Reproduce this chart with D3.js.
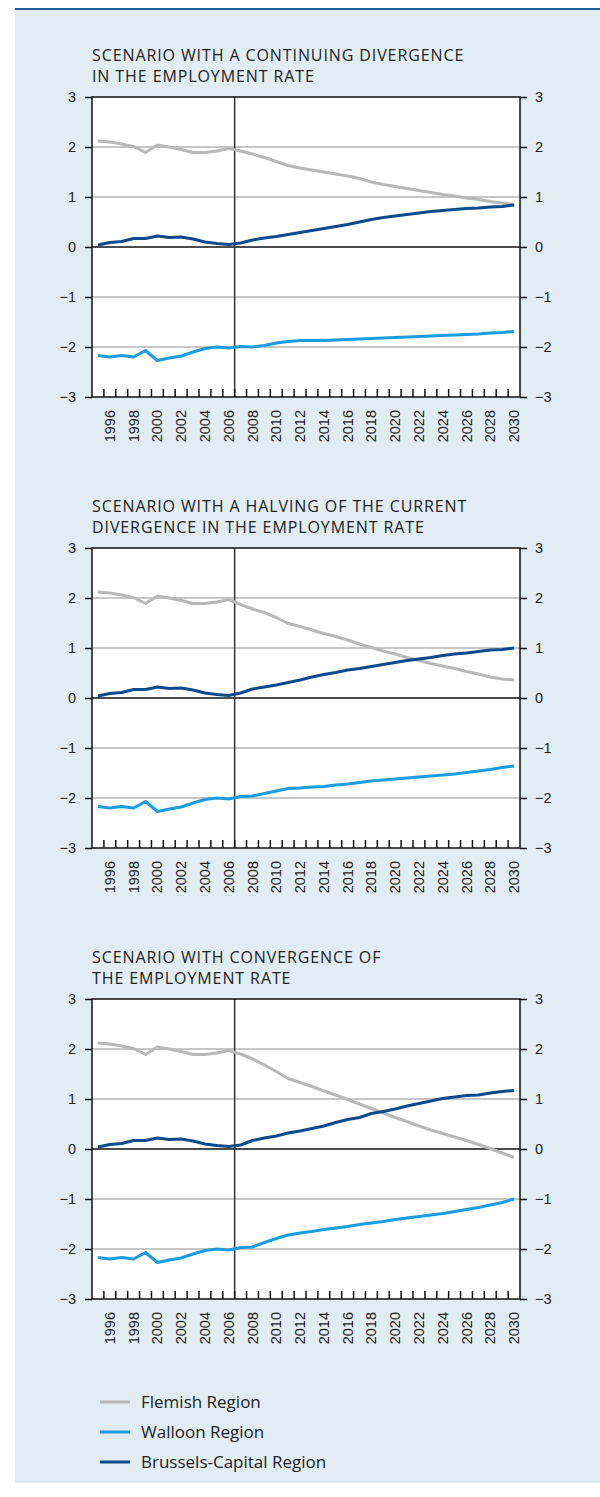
<!DOCTYPE html>
<html>
<head>
<meta charset="utf-8">
<script src="https://d3js.org/d3.v7.min.js"></script>
<style>
  body { margin: 0; background: #fff; }
  svg { display: block; font-family: "Open Sans", "Noto Sans", sans-serif; }
  .tick text { font-size: 14.5px; fill: #222; }
  .title { font-size: 16px; letter-spacing: 0.9px; fill: #222; }
  .legend text { font-size: 17px; fill: #222; }
</style>
</head>
<body>
<div id="chart"></div>
<script>
  // years of the series, history up to 2006 then projections
  const years = d3.range(1995, 2031);
  const labelYears = d3.range(1996, 2031, 2);
  const yTicks = [-3, -2, -1, 0, 1, 2, 3];

  const regions = ["Flemish Region", "Walloon Region", "Brussels-Capital Region"];
  const colors = ["#b8b8b8", "#1a9de0", "#0d4a8c"];

  // observed 1995-2006 (same in all three scenarios)
  const histFlemish = [2.12, 2.10, 2.06, 2.01, 1.89, 2.04, 2.00, 1.95, 1.89, 1.89, 1.92, 1.97];
  const histWalloon = [-2.17, -2.20, -2.17, -2.20, -2.07, -2.27, -2.22, -2.18, -2.10, -2.03, -2.00, -2.02];
  const histBrussels = [0.04, 0.09, 0.11, 0.17, 0.17, 0.22, 0.19, 0.20, 0.16, 0.10, 0.07, 0.05];

  // projections 2007-2030
  const s1Flemish = [1.92, 1.86, 1.79, 1.71, 1.63, 1.58, 1.54, 1.50, 1.46, 1.42, 1.37, 1.30, 1.25, 1.21, 1.17, 1.13, 1.09, 1.05, 1.02, 0.98, 0.95, 0.91, 0.88, 0.85];
  const s1Walloon = [-1.99, -2.00, -1.97, -1.92, -1.89, -1.87, -1.87, -1.87, -1.86, -1.85, -1.84, -1.83, -1.82, -1.81, -1.80, -1.79, -1.78, -1.77, -1.76, -1.75, -1.74, -1.72, -1.71, -1.69];
  const s1Brussels = [0.08, 0.14, 0.18, 0.21, 0.25, 0.29, 0.33, 0.37, 0.41, 0.45, 0.50, 0.55, 0.59, 0.62, 0.65, 0.68, 0.71, 0.73, 0.75, 0.77, 0.78, 0.80, 0.81, 0.84];

  const s2Flemish = [1.87, 1.78, 1.71, 1.61, 1.49, 1.43, 1.36, 1.29, 1.23, 1.16, 1.08, 1.01, 0.94, 0.88, 0.81, 0.75, 0.69, 0.64, 0.59, 0.53, 0.48, 0.42, 0.38, 0.36];
  const s2Walloon = [-1.97, -1.96, -1.91, -1.86, -1.81, -1.80, -1.78, -1.77, -1.74, -1.72, -1.69, -1.66, -1.64, -1.62, -1.60, -1.58, -1.56, -1.54, -1.52, -1.49, -1.46, -1.43, -1.39, -1.36];
  const s2Brussels = [0.10, 0.18, 0.22, 0.26, 0.31, 0.36, 0.42, 0.47, 0.51, 0.56, 0.59, 0.63, 0.67, 0.71, 0.75, 0.78, 0.81, 0.85, 0.88, 0.90, 0.93, 0.96, 0.97, 1.00];

  const s3Flemish = [1.90, 1.80, 1.68, 1.55, 1.41, 1.33, 1.25, 1.16, 1.08, 0.99, 0.90, 0.81, 0.72, 0.63, 0.55, 0.46, 0.38, 0.31, 0.24, 0.17, 0.09, 0.01, -0.08, -0.17];
  const s3Walloon = [-1.97, -1.96, -1.87, -1.79, -1.72, -1.68, -1.65, -1.61, -1.58, -1.55, -1.51, -1.48, -1.45, -1.41, -1.38, -1.35, -1.32, -1.29, -1.25, -1.21, -1.17, -1.12, -1.07, -1.00];
  const s3Brussels = [0.08, 0.17, 0.22, 0.26, 0.32, 0.36, 0.41, 0.46, 0.53, 0.59, 0.63, 0.71, 0.75, 0.80, 0.86, 0.91, 0.96, 1.01, 1.04, 1.07, 1.08, 1.12, 1.15, 1.17];

  const scenarios = [
    { title: ["SCENARIO WITH A CONTINUING DIVERGENCE", "IN THE EMPLOYMENT RATE"], series: [s1Flemish, s1Walloon, s1Brussels] },
    { title: ["SCENARIO WITH A HALVING OF THE CURRENT", "DIVERGENCE IN THE EMPLOYMENT RATE"], series: [s2Flemish, s2Walloon, s2Brussels] },
    { title: ["SCENARIO WITH CONVERGENCE OF", "THE EMPLOYMENT RATE"], series: [s3Flemish, s3Walloon, s3Brussels] }
  ];
  const history = [histFlemish, histWalloon, histBrussels];

  const W = 600, H = 1497;
  const svg = d3.select("#chart").append("svg").attr("width", W).attr("height", H);

  // light blue box with the dark rule on top
  svg.append("rect").attr("x", 15).attr("y", 8).attr("width", W - 15).attr("height", 1475).attr("fill", "#e1ecf3");
  svg.append("line").attr("x1", 15).attr("x2", W).attr("y1", 9).attr("y2", 9)
    .attr("stroke", "#1e5a96").attr("stroke-width", 2);

  const left = 92, right = 520, plotH = 300, panelStep = 451, firstTop = 97;

  const x = d3.scaleBand().domain(years).range([left, right]).padding(0);
  const xc = yr => x(yr) + x.bandwidth() / 2;

  scenarios.forEach((sc, i) => {
    const top = firstTop + i * panelStep;
    const g = svg.append("g");
    const y = d3.scaleLinear().domain([-3, 3]).range([top + plotH, top]);

    // title
    g.append("text").attr("class", "title").attr("x", left).attr("y", top - 36).text(sc.title[0]);
    g.append("text").attr("class", "title").attr("x", left).attr("y", top - 15).text(sc.title[1]);

    // plot area
    g.append("rect").attr("x", left).attr("y", top).attr("width", right - left).attr("height", plotH).attr("fill", "#fff");

    // grid lines
    g.selectAll(".grid").data([-2, -1, 1, 2]).enter().append("line")
      .attr("x1", left).attr("x2", right)
      .attr("y1", d => y(d)).attr("y2", d => y(d))
      .attr("stroke", "#b4b4b4").attr("stroke-width", 1.5);
    g.append("line").attr("x1", left).attr("x2", right).attr("y1", y(0)).attr("y2", y(0))
      .attr("stroke", "#111").attr("stroke-width", 1.5);

    // separation between observed and projected years
    g.append("line").attr("x1", x(2007)).attr("x2", x(2007)).attr("y1", top).attr("y2", top + plotH)
      .attr("stroke", "#333").attr("stroke-width", 1.5);

    // x ticks at band boundaries, pointing inside
    g.selectAll(".xt").data(years.slice(1)).enter().append("line")
      .attr("x1", d => x(d)).attr("x2", d => x(d))
      .attr("y1", top + plotH).attr("y2", top + plotH - 8)
      .attr("stroke", "#111").attr("stroke-width", 1.5);

    // x labels
    const xAxis = g.append("g").attr("transform", `translate(0,${top + plotH})`)
      .call(d3.axisBottom(x).tickValues(labelYears).tickSize(0).tickPadding(0));
    xAxis.select(".domain").remove();
    xAxis.selectAll("text")
      .attr("transform", "rotate(-90)")
      .attr("x", -13).attr("y", 0).attr("dy", "0.35em")
      .style("text-anchor", "end");

    // y axes both sides
    const yl = g.append("g").attr("transform", `translate(${left},0)`)
      .call(d3.axisLeft(y).tickValues(yTicks).tickSize(7).tickPadding(9).tickFormat(d3.format("d")));
    const yr = g.append("g").attr("transform", `translate(${right},0)`)
      .call(d3.axisRight(y).tickValues(yTicks).tickSize(7).tickPadding(8).tickFormat(d3.format("d")));
    [yl, yr].forEach(a => {
      a.select(".domain").remove();
      a.selectAll(".tick line").attr("stroke", "#111").attr("stroke-width", 1.5);
    });

    // frame
    g.append("rect").attr("x", left).attr("y", top).attr("width", right - left).attr("height", plotH)
      .attr("fill", "none").attr("stroke", "#111").attr("stroke-width", 1.5);

    // series lines
    const line = d3.line().x((d, k) => xc(years[k])).y(d => y(d));
    sc.series.forEach((proj, k) => {
      const vals = history[k].concat(proj);
      g.append("path").datum(vals).attr("d", line)
        .attr("fill", "none").attr("stroke", colors[k]).attr("stroke-width", 3)
        .attr("stroke-linejoin", "round");
    });
  });

  // legend
  const lg = svg.append("g").attr("class", "legend");
  regions.forEach((r, k) => {
    const ly = 1402 + k * 30;
    lg.append("line").attr("x1", 100).attr("x2", 130).attr("y1", ly).attr("y2", ly)
      .attr("stroke", colors[k]).attr("stroke-width", 3);
    lg.append("text").attr("x", 141).attr("y", ly).attr("dy", "0.35em").text(r);
  });
</script>
</body>
</html>
